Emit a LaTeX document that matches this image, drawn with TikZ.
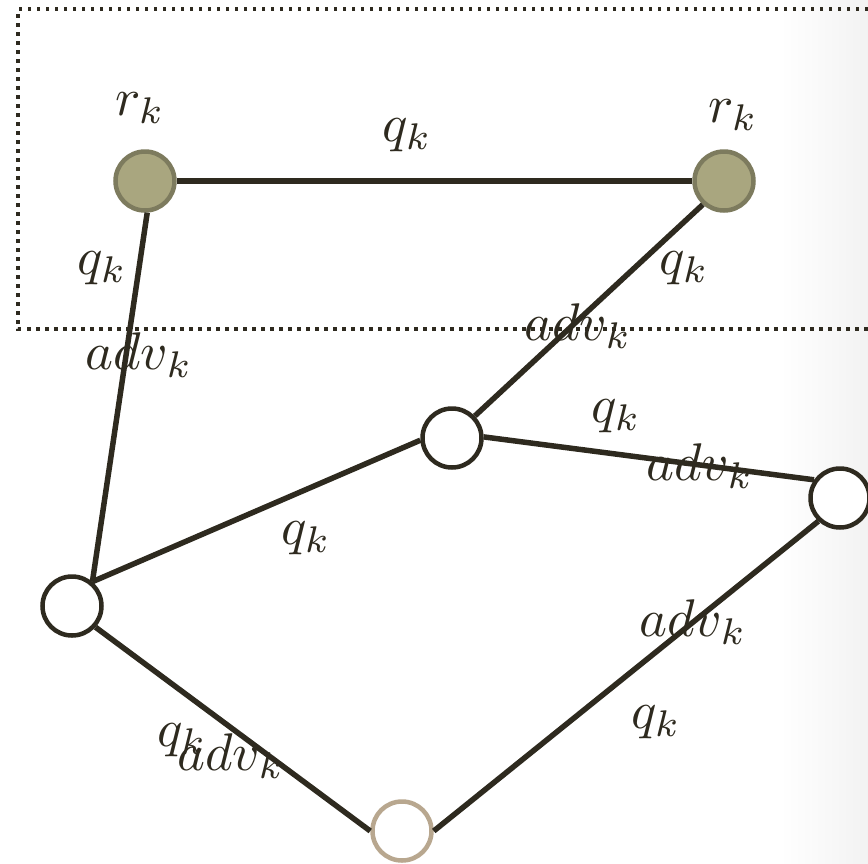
\documentclass[tikz,border=0pt]{standalone}
\usepackage{tikz}
\usetikzlibrary{positioning}
\usepackage{xcolor}
\usepackage{amsmath}
\definecolor{gdark}{RGB}{46,42,31}
\definecolor{golive}{RGB}{169,166,127}
\definecolor{goliveline}{RGB}{125,123,94}
\definecolor{gtan}{RGB}{184,167,143}

\begin{document}
\begin{tikzpicture}[x=1pt, y=-1pt,
  vtx/.style={circle,draw=gdark,line width=4.5pt,fill=white,minimum size=59pt,inner sep=0pt},
  rvtx/.style={vtx,draw=goliveline,fill=golive},
  lnk/.style={draw=gdark,line width=5.5pt},
  lbl/.style={text=gdark,inner sep=0pt,scale=5.3}]
  \useasboundingbox (0,0) rectangle (868,863);
  \shade[left color=white,right color=black!5] (780,0) rectangle (868,863);
  \draw[gdark,line width=3.5pt,dash pattern=on 3.5pt off 5.5pt] (868,9) -- (18,9) -- (18,329) -- (868,329);
  % vertices
  \node[rvtx] (ra) at (145,181) {};
  \node[rvtx] (rb) at (724,181) {};
  \node[vtx] (mid) at (452,438) {};
  \node[vtx] (east) at (840,498) {};
  \node[vtx] (west) at (72,606) {};
  \node[vtx,draw=gtan] (south) at (402,831) {};
  % links
  \draw[lnk] (ra)--(rb); \draw[lnk] (ra.-86)--(west.50);
  \draw[lnk] (rb.228)--(mid.44); \draw[lnk] (mid.2)--(east.145);
  \draw[lnk] (mid.184)--(west.50); \draw[lnk] (west.-42)--(south.180);
  \draw[lnk] (south.0)--(east.227);
  % labels
  \node[lbl] (ra-r) at (140,108) {$r_k$};
  \node[lbl] (rb-r) at (733,115) {$r_k$};
  \node[lbl] (top-q) at (407,135) {$q_k$};
  \node[lbl] (left-q) at (102,268) {$q_k$};
  \node[lbl] (left-a) at (139,355) {$adv_k$};
  \node[lbl] (diag-q) at (684,268) {$q_k$};
  \node[lbl] (diag-a) at (578,326) {$adv_k$};
  \node[lbl] (east-q) at (616,416) {$q_k$};
  \node[lbl] (east-a) at (700,466) {$adv_k$};
  \node[lbl] (west-q) at (306,538) {$q_k$};
  \node[lbl] (se-a) at (693,622) {$adv_k$};
  \node[lbl] (se-q) at (656,722) {$q_k$};
  \node[lbl] (sw-q) at (182,740) {$q_k$};
  \node[lbl] (sw-a) at (231,756) {$adv_k$};
\end{tikzpicture}
\end{document}
